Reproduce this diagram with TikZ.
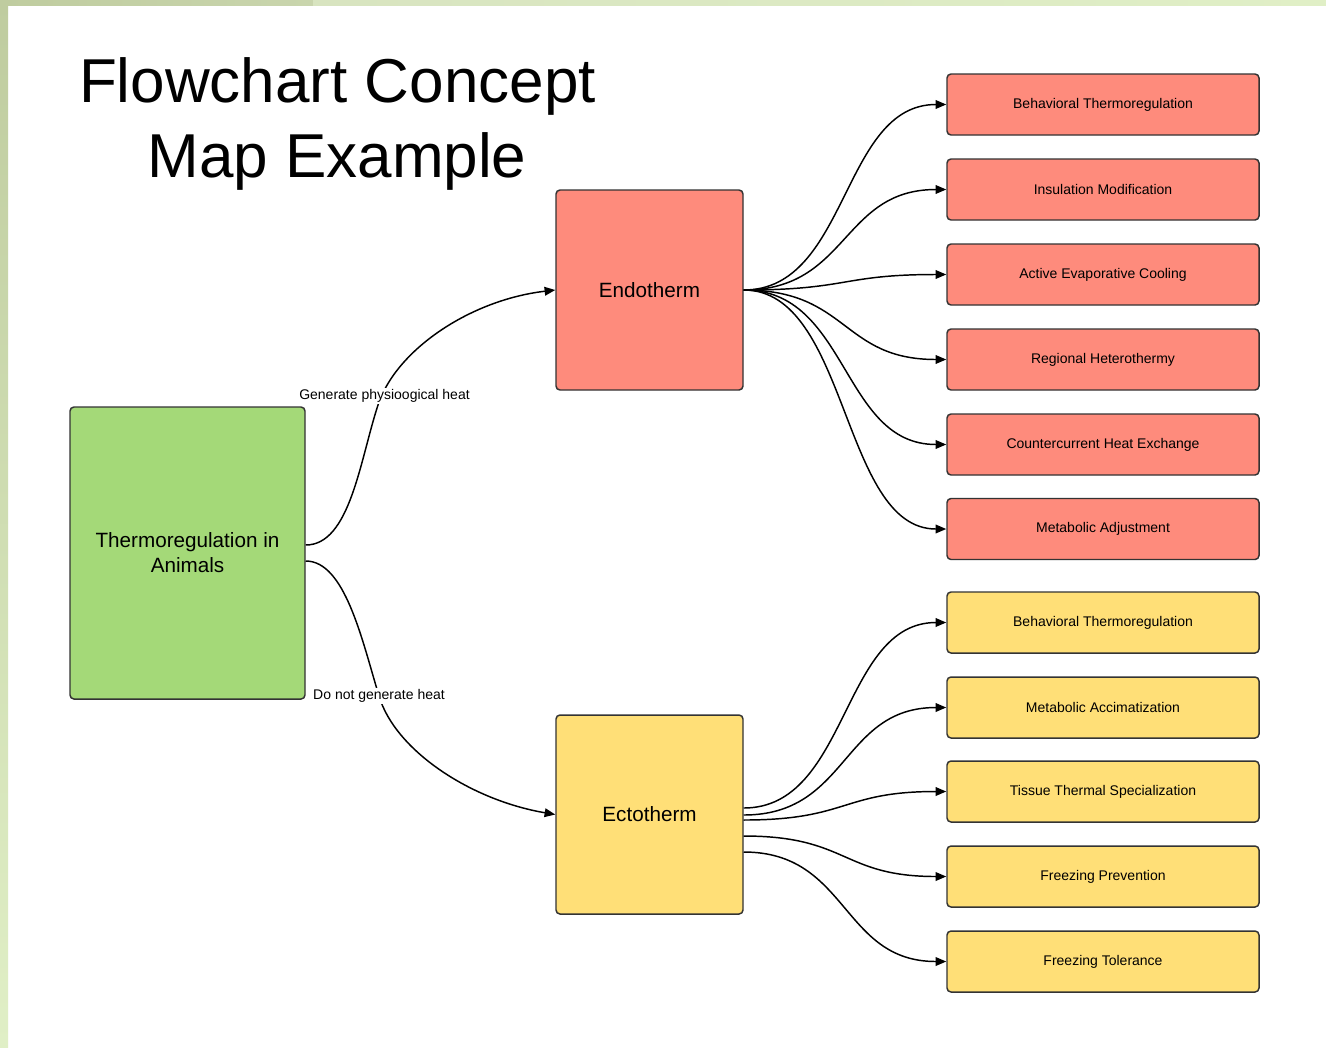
\documentclass[tikz,border=0pt]{standalone}
\usepackage{fontspec}
\setmainfont{Liberation Sans}
\usetikzlibrary{arrows.meta,calc}
\definecolor{redbox}{HTML}{FE8B7C}
\definecolor{greenbox}{HTML}{A4D978}
\definecolor{yellowbox}{HTML}{FFDF77}
\definecolor{stripdark}{HTML}{BFCC9F}
\definecolor{stripmid}{HTML}{C9D5AD}
\definecolor{stripright}{HTML}{D8E4C0}
\definecolor{striplight}{HTML}{E0EFC6}
\definecolor{edgegray}{HTML}{333333}
\begin{document}
\begin{tikzpicture}[x=0.75pt,y=-0.75pt,
  box/.style={draw=edgegray,line width=1.1pt,rounded corners=3pt,align=center,inner sep=2pt},
  bigbox/.style={box,font=\fontsize{15.5}{18.75}\selectfont},
  leafbox/.style={box,minimum width=234pt,minimum height=45.75pt,font=\fontsize{10.5}{12.6}\selectfont},
  conn/.style={line width=1.1pt,-{Triangle[length=8pt,width=6.5pt]}},
  elabel/.style={fill=white,inner sep=1pt,font=\fontsize{10.5}{12.6}\selectfont},
  titlefont/.style={font=\fontsize{46.5}{56}\selectfont}
]
\useasboundingbox (0,0) rectangle (1326,1047);
\fill[white] (0,0) rectangle (1326,1047);
% border strips
\shade[top color=stripdark,bottom color=striplight] (0,0) rectangle (8,1047);
\shade[left color=stripdark,right color=stripmid] (0,0) rectangle (313,5);
\shade[left color=stripright,right color=striplight] (313,0) rectangle (1326,5);

% title
\node[titlefont,anchor=base] (title1) at (337.5,102) {Flowchart Concept};
\node[titlefont,anchor=base] (title2) at (337,177) {Map Example};

% main boxes
\node[bigbox,fill=greenbox,minimum width=176.25pt,minimum height=219pt] (green) at (187.5,553) {Thermoregulation in\\Animals};
\node[bigbox,fill=redbox,minimum width=140.25pt,minimum height=150pt] (endo) at (649.5,290) {Endotherm};
\node[bigbox,fill=yellowbox,minimum width=140.25pt,minimum height=149.25pt] (ecto) at (649.5,814.5) {Ectotherm};

% endotherm leaves
\node[leafbox,fill=redbox] (r1) at (1103,104.5) {Behavioral Thermoregulation};
\node[leafbox,fill=redbox] (r2) at (1103,189.5) {Insulation Modification};
\node[leafbox,fill=redbox] (r3) at (1103,274.5) {Active Evaporative Cooling};
\node[leafbox,fill=redbox] (r4) at (1103,359.5) {Regional Heterothermy};
\node[leafbox,fill=redbox] (r5) at (1103,444.5) {Countercurrent Heat Exchange};
\node[leafbox,fill=redbox] (r6) at (1103,529) {Metabolic Adjustment};

% ectotherm leaves
\node[leafbox,fill=yellowbox] (y1) at (1103,622.5) {Behavioral Thermoregulation};
\node[leafbox,fill=yellowbox] (y2) at (1103,707.5) {Metabolic Accimatization};
\node[leafbox,fill=yellowbox] (y3) at (1103,791.5) {Tissue Thermal Specialization};
\node[leafbox,fill=yellowbox] (y4) at (1103,876.5) {Freezing Prevention};
\node[leafbox,fill=yellowbox] (y5) at (1103,961.5) {Freezing Tolerance};

% main connectors
\draw[conn] ($(green.east)+(0,-8)$) .. controls (350,545) and (360,460) .. (378,405)
  .. controls (396,350) and (470,300) .. (endo.west);
\draw[conn] ($(green.east)+(0,8)$) .. controls (345,561) and (362,640) .. (379,696)
  .. controls (395,750) and (470,800) .. (ecto.west);
\node[elabel] (lab1) at (384.5,396) {Generate physioogical heat};
\node[elabel] (lab2) at (379,696) {Do not generate heat};

% endotherm fan
\foreach \t in {r1,r2,r3,r4,r5,r6}
  \draw[conn] (endo.east) .. controls +(105,0) and +(-105,0) .. (\t.west);

% ectotherm fan
\coordinate (e1) at ($(ecto.east)+(0,-6.5)$);
\coordinate (e2) at ($(ecto.east)+(0,0.5)$);
\coordinate (e3) at ($(ecto.east)+(0,5.5)$);
\coordinate (e4) at ($(ecto.east)+(0,21.5)$);
\coordinate (e5) at ($(ecto.east)+(0,37.5)$);
\foreach \s/\t in {e1/y1,e2/y2,e3/y3,e4/y4,e5/y5}
  \draw[conn] (\s) .. controls +(105,0) and +(-105,0) .. (\t.west);
\end{tikzpicture}
\end{document}
